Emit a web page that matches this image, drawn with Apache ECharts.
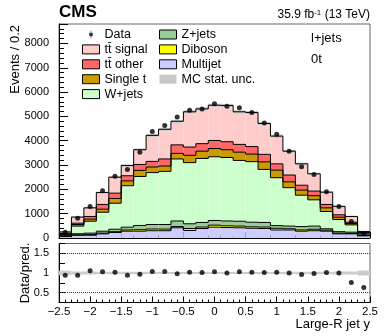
<!DOCTYPE html>
<html>
<head>
<meta charset="utf-8">
<script src="https://cdn.jsdelivr.net/npm/echarts@6/dist/echarts.min.js"></script>
<style>
html, body { margin: 0; padding: 0; background: #fff; }
#main { width: 390px; height: 336px; }
</style>
</head>
<body>
<div id="main"></div>
<script>
// bins of large-R jet rapidity, width 0.2
var binLow = [-2.5, -2.3, -2.1, -1.9, -1.7, -1.5, -1.3, -1.1, -0.9, -0.7, -0.5, -0.3, -0.1,
              0.1, 0.3, 0.5, 0.7, 0.9, 1.1, 1.3, 1.5, 1.7, 1.9, 2.1, 2.3];
var binWidth = 0.2;

// MC components (events / bin), bottom of stack first
var multijet  = [60, 110, 115, 170, 225, 280, 280, 300, 300, 420, 310, 390, 445, 430, 420, 400, 390, 330, 330, 280, 300, 280, 170, 170, 90];
var diboson   = [15, 20, 25, 30, 35, 50, 60, 70, 65, 50, 80, 60, 85, 70, 70, 60, 60, 70, 50, 50, 60, 40, 30, 20, 10];
var zJets     = [35, 45, 60, 80, 100, 115, 175, 185, 190, 230, 195, 190, 190, 200, 200, 190, 190, 110, 110, 140, 130, 60, 60, 50, 30];
var wJets     = [40, 315, 490, 780, 1070, 1705, 2015, 2135, 2185, 2550, 2515, 2630, 2620, 2610, 2500, 2490, 2180, 1970, 1580, 1290, 1080, 710, 500, 300, 70];
var singleTop = [20, 65, 85, 125, 195, 200, 250, 230, 220, 230, 300, 300, 340, 320, 340, 310, 310, 310, 240, 210, 170, 150, 95, 55, 10];
var ttOther   = [25, 55, 110, 195, 220, 210, 245, 230, 290, 350, 340, 310, 330, 330, 320, 310, 310, 260, 280, 200, 190, 140, 100, 55, 15];
var ttSignal  = [55, 250, 355, 490, 655, 420, 605, 1070, 1220, 970, 1450, 1430, 1450, 1490, 1340, 1400, 1270, 1140, 980, 880, 710, 505, 345, 235, 45];
var mcStatUnc = [20, 30, 35, 40, 45, 50, 55, 60, 60, 60, 65, 65, 65, 65, 65, 65, 60, 60, 55, 50, 45, 40, 35, 30, 20];

var data      = [235, 815, 1300, 1940, 2540, 2820, 3530, 4380, 4630, 4980, 5250, 5300, 5520, 5420, 5360, 5160, 4730, 4270, 3570, 2930, 2610, 1900, 1300, 680, 170];

// ratio panel
var ratio     = [0.94, 0.94, 1.06, 1.03, 1.02, 0.94, 0.97, 1.04, 1.04, 0.98, 1.02, 1.01, 1.03, 1.0, 1.03, 1.02, 1.01, 1.02, 1.0, 0.96, 0.99, 1.01, 1.0, 0.76, 0.63];
var ratioUnc  = [0.06, 0.04, 0.035, 0.03, 0.03, 0.03, 0.03, 0.025, 0.025, 0.025, 0.025, 0.025, 0.025, 0.025, 0.025, 0.025, 0.025, 0.025, 0.03, 0.03, 0.03, 0.03, 0.035, 0.04, 0.065];
var ratioLabels = [0.5, 1, 1.5];

var FONT = '"Liberation Sans", Arial, Helvetica, sans-serif';

var chart = echarts.init(document.getElementById('main'));

var components = [
    { name: 'Multijet',   vals: multijet,  color: '#ccccff' },
    { name: 'Diboson',    vals: diboson,   color: '#ffff00' },
    { name: 'Z+jets',     vals: zJets,     color: '#99cc99' },
    { name: 'W+jets',     vals: wJets,     color: '#ccffcc' },
    { name: 'Single t',   vals: singleTop, color: '#cc9900' },
    { name: 'tt\u0304 other',  vals: ttOther,  color: '#ff6666' },
    { name: 'tt\u0304 signal', vals: ttSignal, color: '#ffcccc' }
];

// one filled bin + step outline (top edge and left riser)
function renderStackBin(params, api) {
    var lo = api.coord([api.value(0), api.value(2)]);
    var hi = api.coord([api.value(1), api.value(3)]);
    var prev = api.coord([api.value(0), api.value(4)]);
    return {
        type: 'group',
        children: [
            { type: 'rect', z2: 0,
              shape: { x: lo[0], y: hi[1], width: hi[0] - lo[0], height: lo[1] - hi[1] },
              style: { fill: api.visual('color') } },
            { type: 'polyline', z2: 10,
              shape: { points: [[lo[0], prev[1]], [lo[0], hi[1]], [hi[0], hi[1]]] },
              style: { stroke: '#000', lineWidth: 1, fill: null } }
        ]
    };
}

function renderBand(params, api) {
    var lo = api.coord([api.value(0), api.value(2)]);
    var hi = api.coord([api.value(1), api.value(3)]);
    return { type: 'rect', z2: 5,
             shape: { x: lo[0], y: hi[1], width: hi[0] - lo[0], height: lo[1] - hi[1] },
             style: { fill: api.visual('color') } };
}

var series = [];
var cum = binLow.map(function () { return 0; });
components.forEach(function (c) {
    var rows = binLow.map(function (x, i) {
        var bottom = cum[i];
        cum[i] += c.vals[i];
        return [x, x + binWidth, bottom, cum[i]];
    });
    rows.forEach(function (r, i) { r.push(i > 0 ? rows[i - 1][3] : 0); });
    series.push({
        type: 'custom', name: c.name, xAxisIndex: 0, yAxisIndex: 0,
        data: rows, renderItem: renderStackBin, clip: true,
        encode: { x: [0, 1], y: [2, 3] },
        itemStyle: { color: c.color }
    });
});

// MC stat. unc. band on top of the stack
series.push({
    type: 'custom', name: 'MC stat. unc.', xAxisIndex: 0, yAxisIndex: 0,
    data: binLow.map(function (x, i) { return [x, x + binWidth, cum[i] - mcStatUnc[i], cum[i] + mcStatUnc[i]]; }),
    renderItem: renderBand, clip: true,
    encode: { x: [0, 1], y: [2, 3] },
    itemStyle: { color: '#c8c8c8' }
});

series.push({
    type: 'scatter', name: 'Data', xAxisIndex: 0, yAxisIndex: 0,
    data: binLow.map(function (x, i) { return [x + binWidth / 2, data[i]]; }),
    symbolSize: 5, itemStyle: { color: '#000' }, z: 5
});

// ratio panel
series.push({
    type: 'custom', name: 'ratio unc', xAxisIndex: 1, yAxisIndex: 1,
    data: binLow.map(function (x, i) { return [x, x + binWidth, 1 - ratioUnc[i], 1 + ratioUnc[i]]; }),
    renderItem: renderBand, clip: true,
    encode: { x: [0, 1], y: [2, 3] },
    itemStyle: { color: '#cccccc' }
});

series.push({
    type: 'scatter', name: 'ratio', xAxisIndex: 1, yAxisIndex: 1,
    data: binLow.map(function (x, i) { return [x + binWidth / 2, ratio[i]]; }),
    symbolSize: 5, itemStyle: { color: '#000' }, z: 5,
    markLine: {
        silent: true, symbol: 'none', label: { show: false },
        lineStyle: { color: '#333', type: 'dotted', width: 1 },
        data: [{ yAxis: 0.5 }, { yAxis: 1.5 }]
    }
});

var tickStyle = { color: '#000', width: 1 };

function xAxisCfg(idx, showLabels) {
    return {
        type: 'value', gridIndex: idx, min: -2.5, max: 2.5, interval: 0.5,
        axisLine: { onZero: false, lineStyle: tickStyle },
        axisTick: { inside: true, length: 6, lineStyle: tickStyle },
        minorTick: { show: true, splitNumber: 5, length: 3, lineStyle: tickStyle },
        splitLine: { show: false },
        axisLabel: {
            show: showLabels, margin: 3, fontSize: 11.5, fontFamily: FONT, color: '#000',
            formatter: function (v) { return String(v).replace('-', '\u2212'); }
        }
    };
}

var legendText = { fontSize: 12.5, fontFamily: FONT, color: '#000' };
var boxed = { borderColor: '#000', borderWidth: 1 };

var option = {
    animation: false,
    backgroundColor: '#fff',
    grid: [
        { left: 59, top: 24, width: 311, height: 214, show: true, borderColor: '#666', borderWidth: 1, backgroundColor: 'transparent' },
        { left: 59, top: 243.5, width: 311, height: 59, show: true, borderColor: '#666', borderWidth: 1, backgroundColor: 'transparent' }
    ],
    xAxis: [xAxisCfg(0, false), xAxisCfg(1, true)],
    yAxis: [
        {
            type: 'value', gridIndex: 0, min: 0, max: 8800, interval: 1000,
            axisLine: { show: true, onZero: false, lineStyle: tickStyle },
            axisTick: { inside: true, length: 9, lineStyle: tickStyle },
            minorTick: { show: true, splitNumber: 5, length: 5, lineStyle: tickStyle },
            splitLine: { show: false },
            axisLabel: {
                margin: 10, fontSize: 11, fontFamily: FONT, color: '#000',
                formatter: function (v) { return v % 1000 === 0 ? String(v) : ''; }
            }
        },
        {
            type: 'value', gridIndex: 1, min: 0.25, max: 1.75, interval: 0.25,
            axisLine: { show: true, onZero: false, lineStyle: tickStyle },
            axisTick: { inside: true, length: 6, lineStyle: tickStyle },
            splitLine: { show: false },
            axisLabel: {
                margin: 10, fontSize: 11, fontFamily: FONT, color: '#000',
                formatter: function (v) { return ratioLabels.indexOf(v) >= 0 ? String(v) : ''; }
            }
        }
    ],
    legend: [
        {
            left: 82, top: 28, padding: 0, orient: 'vertical', itemWidth: 17, itemHeight: 9, itemGap: 1.9,
            icon: 'rect', selectedMode: false, textStyle: legendText,
            data: [
                { name: 'Data', itemStyle: { color: '#000', borderWidth: 0 },
                  icon: 'path://M0,0L0.01,0L0.01,0.01Z M16.99,8.99L17,8.99L17,9Z M8.25,0.5L8.75,0.5L8.75,8.5L8.25,8.5Z M10.5,4.5A2,2,0,1,1,6.5,4.5A2,2,0,1,1,10.5,4.5Z' },
                { name: 'tt\u0304 signal', itemStyle: boxed },
                { name: 'tt\u0304 other', itemStyle: boxed },
                { name: 'Single t', itemStyle: boxed },
                { name: 'W+jets', itemStyle: boxed }
            ]
        },
        {
            left: 159, top: 28, padding: 0, orient: 'vertical', itemWidth: 17, itemHeight: 9, itemGap: 1.9,
            icon: 'rect', selectedMode: false, textStyle: legendText,
            data: [
                { name: 'Z+jets', itemStyle: boxed },
                { name: 'Diboson', itemStyle: boxed },
                { name: 'Multijet', itemStyle: boxed },
                { name: 'MC stat. unc.', itemStyle: { borderWidth: 0 } }
            ]
        }
    ],
    graphic: [
        { type: 'text', x: 59, y: 12.5, style: { text: 'CMS', font: 'bold 17px ' + FONT, fill: '#000', align: 'left', verticalAlign: 'middle' } },
        { type: 'text', x: 370, y: 15, style: {
            text: '35.9 fb{sup|-1} (13 TeV)', font: '12px ' + FONT, fill: '#000', align: 'right', verticalAlign: 'middle',
            rich: { sup: { fontSize: 8, fontFamily: FONT, verticalAlign: 'top', lineHeight: 8 } } } },
        { type: 'text', x: 311, y: 38, style: { text: 'l+jets', font: '13px ' + FONT, fill: '#000', align: 'left', verticalAlign: 'middle' } },
        { type: 'text', x: 311, y: 59, style: { text: '0t', font: '13px ' + FONT, fill: '#000', align: 'left', verticalAlign: 'middle' } },
        { type: 'text', x: 15, y: 25, rotation: Math.PI / 2, style: { text: 'Events / 0.2', font: '13px ' + FONT, fill: '#000', align: 'right', verticalAlign: 'middle' } },
        { type: 'text', x: 25, y: 273, rotation: Math.PI / 2, style: { text: 'Data/pred.', font: '13px ' + FONT, fill: '#000', align: 'center', verticalAlign: 'middle' } },
        { type: 'text', x: 370, y: 324, style: { text: 'Large-R jet y', font: '13px ' + FONT, fill: '#000', align: 'right', verticalAlign: 'middle' } }
    ],
    series: series
};

chart.setOption(option);
</script>
</body>
</html>
